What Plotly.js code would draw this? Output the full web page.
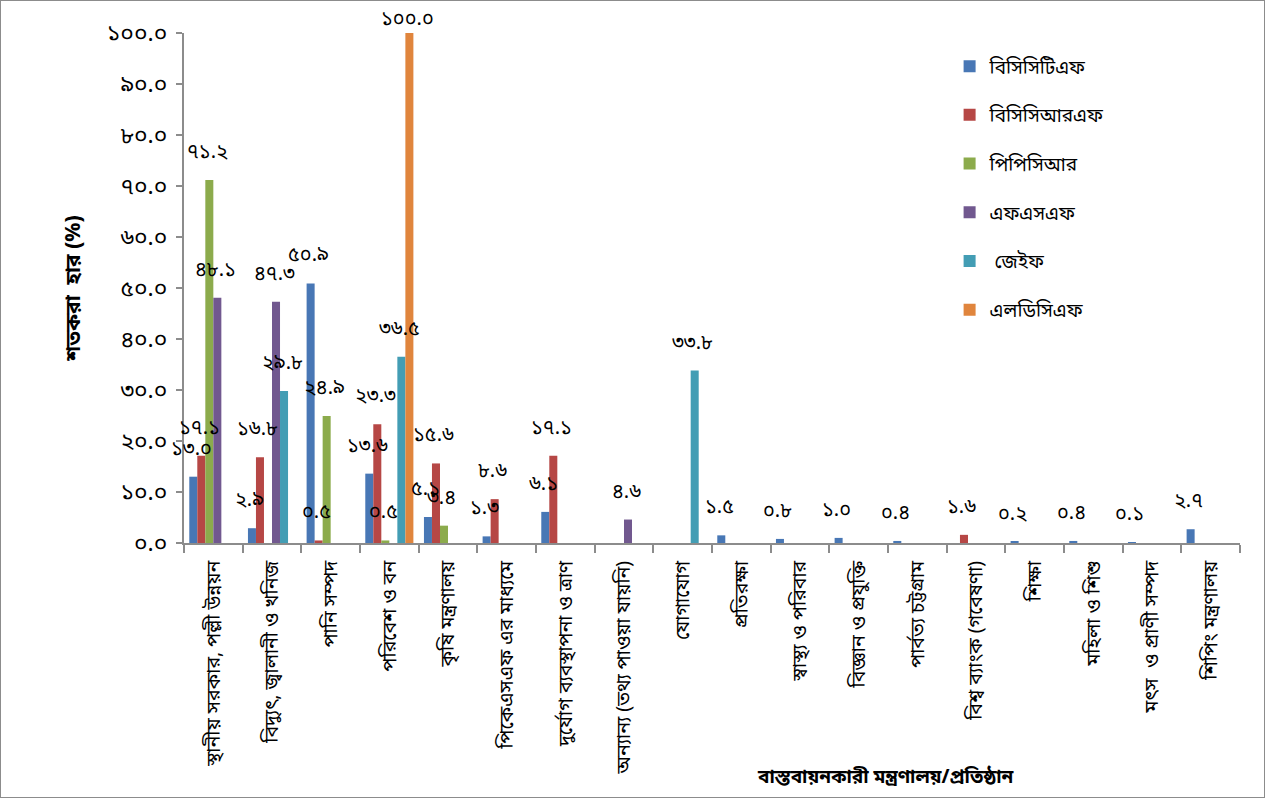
<!DOCTYPE html>
<html>
<head>
<meta charset="utf-8">
<script src="https://cdn.plot.ly/plotly-3.0.1.min.js"></script>
<style>
html,body{margin:0;padding:0;background:#fff;}
#chart{width:1265px;height:798px;box-sizing:border-box;border:1px solid #8c8c8c;}
</style>
</head>
<body>
<div id="chart"></div>
<script>
const categories = [
  "স্থানীয় সরকার, পল্লী উন্নয়ন",
  "বিদ্যুৎ, জ্বালানী ও খনিজ",
  "পানি সম্পদ",
  "পরিবেশ ও বন",
  "কৃষি মন্ত্রণালয়",
  "পিকেএসএফ এর মাধ্যমে",
  "দুর্যোগ ব্যবস্থাপনা ও ত্রাণ",
  "অন্যান্য (তথ্য পাওয়া যায়নি)",
  "যোগাযোগ",
  "প্রতিরক্ষা",
  "স্বাস্থ্য ও পরিবার",
  "বিজ্ঞান ও প্রযুক্তি",
  "পার্বত্য চট্টগ্রাম",
  "বিশ্ব ব্যাংক (গবেষণা)",
  "শিক্ষা",
  "মহিলা ও শিশু",
  "মৎস  ও প্রাণী সম্পদ",
  "শিপিং মন্ত্রণালয়"
];
const seriesNames = ["বিসিসিটিএফ", "বিসিসিআরএফ", "পিপিসিআর", "এফএসএফ", " জেইফ", "এলডিসিএফ"];
const bcctf = [13.0, 2.9, 50.9, 13.6, 5.1, 1.3, 6.1, null, null, 1.5, 0.8, 1.0, 0.4, null, 0.2, 0.4, 0.1, 2.7];
const bccrf = [17.1, 16.8, 0.5, 23.3, 15.6, 8.6, 17.1, null, null, null, null, null, null, 1.6, null, null, null, null];
const ppcr  = [71.2, null, 24.9, 0.5, 3.4, null, null, null, null, null, null, null, null, null, null, null, null, null];
const fsf   = [48.1, 47.3, null, null, null, null, null, 4.6, null, null, null, null, null, null, null, null, null, null];
const gef   = [null, 29.8, null, 36.5, null, null, null, null, 33.8, null, null, null, null, null, null, null, null, null];
const ldcf  = [null, null, null, 100.0, null, null, null, null, null, null, null, null, null, null, null, null, null, null];
const yTickVals = [0, 10, 20, 30, 40, 50, 60, 70, 80, 90, 100];
const yTickText = ["০.০", "১০.০", "২০.০", "৩০.০", "৪০.০", "৫০.০", "৬০.০", "৭০.০", "৮০.০", "৯০.০", "১০০.০"];
const yTitle = "শতকরা  হার (%)";
const xTitle = "বাস্তবায়নকারী মন্ত্রণালয়/প্রতিষ্ঠান";

const seriesValues = [bcctf, bccrf, ppcr, fsf, gef, ldcf];
const colors = ["#4877B5", "#B64745", "#8CAB4C", "#71588F", "#439DB4", "#E0853D"];
const FONT = "'Noto Sans Bengali', 'Noto Sans', 'DejaVu Sans', sans-serif";
const bnDigits = "০১২৩৪৫৬৭৮৯";
function toBn(v){ return v.toFixed(1).replace(/[0-9]/g, d => bnDigits[+d]); }

const traces = seriesValues.map((vals, k) => ({
  type: "bar",
  name: seriesNames[k],
  x: categories,
  y: vals,
  marker: {color: colors[k]},
  legendgroup: "g" + k,
  hoverinfo: "y+name"
}));

const plotW = 1265 - 2 - 183 - 24;
const bargap = 0.18;
const barPx = plotW / categories.length * (1 - bargap) / seriesValues.length;
const annotations = [];
seriesValues.forEach((vals, k) => {
  vals.forEach((v, i) => {
    if (v === null) return;
    annotations.push({
      x: categories[i], y: v, xref: "x", yref: "y",
      text: toBn(v), showarrow: false,
      xshift: (k - 2.5) * barPx - 2,
      yshift: v >= 100 ? 13 : 27,
      font: {family: FONT, size: 20, color: "#000"}
    });
  });
});
annotations.push({
  xref: "paper", yref: "paper", x: 0.665, y: -0.49,
  text: xTitle, showarrow: false,
  font: {family: FONT, size: 19, color: "#000", weight: "bold"}
});

const layout = {
  width: 1263, height: 796,
  margin: {l: 183, r: 24, t: 32, b: 254, pad: 0},
  paper_bgcolor: "#fff", plot_bgcolor: "#fff",
  barmode: "group", bargap: bargap, bargroupgap: 0,
  showlegend: true,
  legend: {
    x: 0.725, y: 0.972, xanchor: "left", yanchor: "top",
    font: {family: FONT, size: 19, color: "#000"},
    tracegroupgap: 21, bgcolor: "rgba(0,0,0,0)"
  },
  xaxis: {
    type: "category", tickangle: -90, automargin: false,
    range: [-0.5, categories.length - 0.5],
    showline: true, linecolor: "#8c8c8c", linewidth: 2,
    ticks: "outside", tickson: "boundaries", ticklen: 8, tickcolor: "#8c8c8c", tickwidth: 2,
    ticklabelstandoff: 8,
    showgrid: false, zeroline: false,
    tickfont: {family: FONT, size: 19.5, color: "#000"}
  },
  yaxis: {
    range: [0, 100], tickvals: yTickVals, ticktext: yTickText, automargin: false,
    showline: true, linecolor: "#8c8c8c", linewidth: 2,
    ticks: "outside", ticklen: 6, tickcolor: "#8c8c8c", tickwidth: 2,
    ticklabelstandoff: 4,
    showgrid: false, zeroline: false,
    tickfont: {family: FONT, size: 23, color: "#000"},
    title: {text: yTitle, standoff: 20, font: {family: FONT, size: 21, color: "#000", weight: "bold"}}
  },
  annotations: annotations
};

Plotly.newPlot("chart", traces, layout, {displayModeBar: false});
</script>
</body>
</html>
